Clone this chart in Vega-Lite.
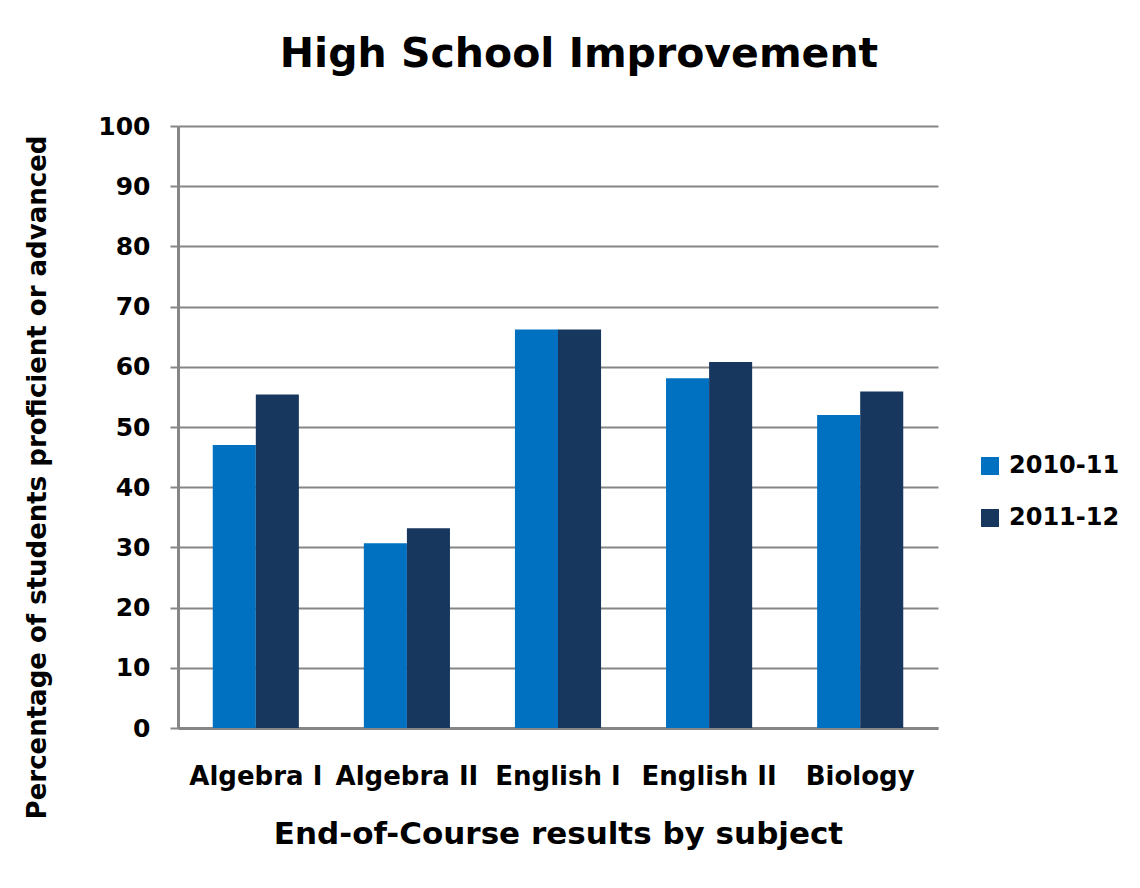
{
  "$schema": "https://vega.github.io/schema/vega-lite/v6.json",
  "autosize": {"type": "none"},
  "width": 760,
  "height": 602,
  "padding": {"left": 178, "top": 126, "right": 202, "bottom": 160},
  "background": "white",
  "title": {
    "text": "High School Improvement",
    "font": "DejaVu Sans",
    "fontWeight": "bold",
    "fontSize": 41,
    "color": "black",
    "anchor": "middle",
    "frame": "group",
    "dx": 21,
    "offset": 38
  },
  "data": {
    "values": [
      {"subject": "Algebra I", "year": "2010-11", "pct": 47.0},
      {"subject": "Algebra I", "year": "2011-12", "pct": 55.4},
      {"subject": "Algebra II", "year": "2010-11", "pct": 30.7},
      {"subject": "Algebra II", "year": "2011-12", "pct": 33.2},
      {"subject": "English I", "year": "2010-11", "pct": 66.2},
      {"subject": "English I", "year": "2011-12", "pct": 66.2},
      {"subject": "English II", "year": "2010-11", "pct": 58.1},
      {"subject": "English II", "year": "2011-12", "pct": 60.8},
      {"subject": "Biology", "year": "2010-11", "pct": 52.0},
      {"subject": "Biology", "year": "2011-12", "pct": 55.9}
    ]
  },
  "mark": {"type": "bar"},
  "encoding": {
    "x": {
      "field": "subject",
      "type": "nominal",
      "sort": null,
      "scale": {"paddingInner": 0.43, "paddingOuter": 0.23},
      "axis": {
        "title": "End-of-Course results by subject",
        "titleFont": "DejaVu Sans",
        "titleFontWeight": "bold",
        "titleFontSize": 31,
        "titleColor": "black",
        "titlePadding": 30,
        "labelAngle": 0,
        "labelFont": "DejaVu Sans",
        "labelFontWeight": "bold",
        "labelFontSize": 26,
        "labelColor": "black",
        "labelPadding": 35,
        "ticks": false,
        "domainColor": "#868686",
        "domainWidth": 3
      }
    },
    "xOffset": {"field": "year", "type": "nominal"},
    "y": {
      "field": "pct",
      "type": "quantitative",
      "scale": {"domain": [0, 100]},
      "axis": {
        "title": "Percentage of students  proficient or advanced",
        "titleFont": "DejaVu Sans",
        "titleFontWeight": "bold",
        "titleFontSize": 26,
        "titleColor": "black",
        "titleBaseline": "alphabetic",
        "titleX": -133,
        "titleY": 351,
        "values": [0, 10, 20, 30, 40, 50, 60, 70, 80, 90, 100],
        "labelFont": "DejaVu Sans",
        "labelFontWeight": "bold",
        "labelFontSize": 25,
        "labelColor": "black",
        "labelPadding": 20,
        "tickSize": 8,
        "tickColor": "#868686",
        "tickWidth": 2,
        "domainColor": "#868686",
        "domainWidth": 3,
        "gridColor": "#868686",
        "gridWidth": 2
      }
    },
    "color": {
      "field": "year",
      "type": "nominal",
      "scale": {"domain": ["2010-11", "2011-12"], "range": ["#0070C0", "#17375E"]},
      "legend": {
        "title": null,
        "orient": "none",
        "legendX": 800,
        "legendY": 328,
        "symbolType": "square",
        "symbolSize": 324,
        "symbolStrokeWidth": 0,
        "labelFont": "DejaVu Sans",
        "labelFontWeight": "bold",
        "labelFontSize": 24,
        "labelColor": "black",
        "rowPadding": 28,
        "labelOffset": 7
      }
    }
  },
  "config": {"view": {"stroke": null}}
}
